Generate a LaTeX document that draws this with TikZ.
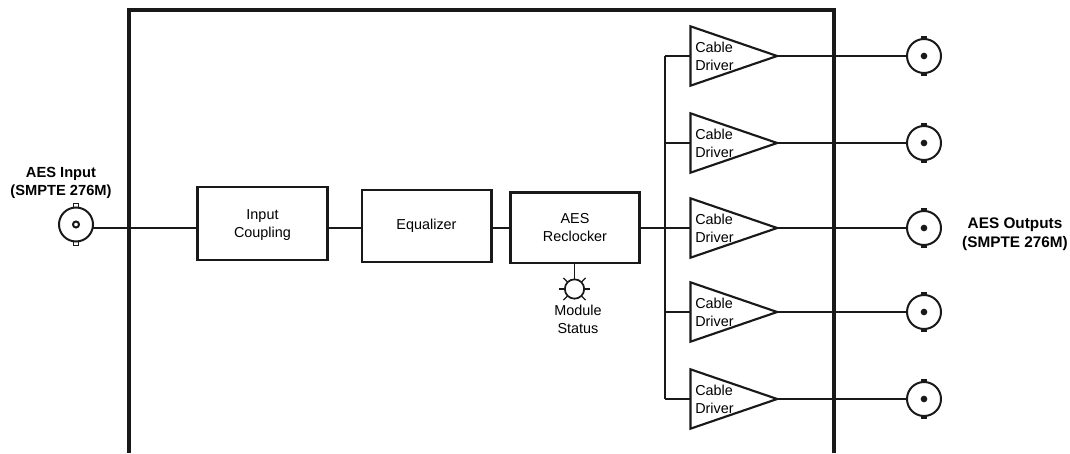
\documentclass[tikz,border=0pt]{standalone}
\usepackage{fontspec}
\setmainfont{Liberation Sans}
\usetikzlibrary{shapes.geometric}
\tikzset{
  x=0.75pt,y=-0.75pt,
  wire/.style={line width=1.6pt,black!90},
  frame/.style={line width=3pt,black!90,line join=miter},
  blockbox/.style={draw=black!90,line width=2pt,fill=white,rectangle,inner sep=0pt,align=center,font=\fontsize{10.8}{13.5}\selectfont},
  drv/.style={draw=black!90,line width=1.6pt,isosceles triangle,isosceles triangle stretches,minimum width=44.5pt,minimum height=65pt,inner sep=0pt,outer sep=0pt,shape border rotate=0,anchor=lower side},
  drvtext/.style={anchor=west,align=left,inner sep=0pt,font=\fontsize{10.8}{13.5}\selectfont},
  bnc/.style={draw=black!90,line width=1.5pt,circle,fill=white,minimum size=25.5pt,inner sep=0pt,outer sep=0pt},
  lab/.style={align=center,inner sep=0pt,font=\fontsize{11}{13.5}\selectfont\bfseries},
  outlabstyle/.style={align=center,inner sep=0pt,font=\fontsize{11.5}{14}\selectfont\bfseries},
  small/.style={align=center,inner sep=0pt,font=\fontsize{10.8}{13.5}\selectfont},
  ray/.style={line width=1pt,black!90},
}
\begin{document}
\begin{tikzpicture}
\useasboundingbox (0,0) rectangle (1070,453);
\coordinate (main) at (0,228);
\coordinate (fbl) at (129,453);
\coordinate (ftl) at (129,10);
\coordinate (ftr) at (834,10);
\coordinate (fbr) at (834,453);
\coordinate (trunktop) at (665,56);
\coordinate (trunkbot) at (665,399);
% blocks
\node[blockbox,line width=1.8pt,minimum width=97.5pt,minimum height=54.5pt,label={[small,yshift=-1.5pt]center:Input\\Coupling}] (coupling) at (262.5,223.5) {};
\node[blockbox,minimum width=97pt,minimum height=54pt] (eq) at (426.5,226) {Equalizer};
\node[blockbox,minimum width=97pt,minimum height=53pt] (reclock) at (575,227.5) {AES\\Reclocker};
% drivers
\foreach \n/\y in {a/56,b/143,c/228,d/312,e/399}{
  \node[drv] (drv\n) at (690.5,\y) {};
  \node[drvtext] (drvt\n) at (695,\y) {Cable\\Driver};
  \node[bnc] (out\n) at (924,\y) {};
  \node[fill=black!90,circle,minimum size=5pt,inner sep=0pt] (outdot\n) at (924,\y) {};
  \node[fill=black!90,rectangle,minimum width=4pt,minimum height=3pt,inner sep=0pt] (outtop\n) at (924,\y-18) {};
  \node[fill=black!90,rectangle,minimum width=4pt,minimum height=3pt,inner sep=0pt] (outbot\n) at (924,\y+18) {};
  \draw[wire] (drv\n.apex) -- (out\n.west);
  \draw[wire] (drv\n.lower side) -- (665,\y);
}
% input connector
\node[draw=black!90,line width=1pt,fill=white,rectangle,minimum width=4pt,minimum height=4pt,inner sep=0pt] (intop) at (76,206) {};
\node[draw=black!90,line width=1pt,fill=white,rectangle,minimum width=4pt,minimum height=4pt,inner sep=0pt] (inbot) at (76,243) {};
\node[bnc] (in) at (76,224.5) {};
\node[draw=black!90,line width=1.5pt,fill=white,circle,minimum size=4.5pt,inner sep=0pt] (indot) at (76,224.5) {};
% wires
\draw[wire] (in.east |- main) -- (coupling.west |- main);
\draw[wire] (coupling.east |- main) -- (eq.west |- main);
\draw[wire] (eq.east |- main) -- (reclock.west |- main);
\draw[wire] (reclock.east |- main) -- (665,228);
\draw[wire] (trunktop) -- (trunkbot);
% frame
\draw[frame] (fbl) -- (ftl) -- (ftr) -- (fbr);
% LED
\node[draw=black!90,line width=1.3pt,circle,minimum size=14.5pt,inner sep=0pt,outer sep=0pt] (led) at (574.5,289) {};
\draw[line width=1.2pt,black!90] (reclock.south -| led) -- (led.north);
\foreach \a in {0,45,135,180,225,315}{
  \draw[ray] (led.\a) -- ++(-\a:6);
}
% text
\node[small] (status) at (578,319.5) {Module\\Status};
\node[lab] (inlab) at (61,183) {AES Input\\(SMPTE 276M)};
\node[outlabstyle] (outlab) at (1015,234) {AES Outputs\\(SMPTE 276M)};
\end{tikzpicture}
\end{document}
